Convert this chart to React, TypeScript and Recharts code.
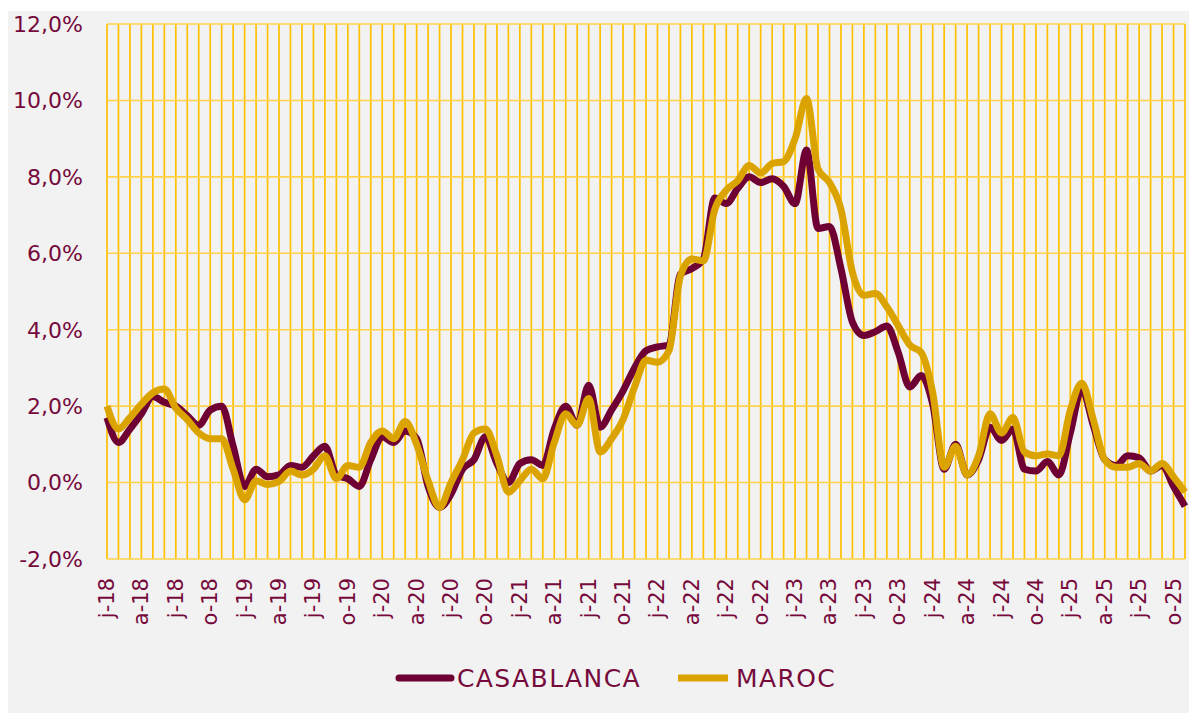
import { LineChart, Line, XAxis, YAxis, CartesianGrid } from "recharts";

const monthInitials = ["j", "f", "m", "a", "m", "j", "j", "a", "s", "o", "n", "d"];
const years = ["18", "19", "20", "21", "22", "23", "24", "25"];

// Jan 2018 -> Nov 2025, monthly, %
const casablanca = [
  1.7, 1.05, 1.4, 1.8, 2.25, 2.1, 2.0, 1.75, 1.5, 1.9, 2.0, 0.95,
  -0.1, 0.35, 0.15, 0.2, 0.45, 0.4, 0.7, 0.95, 0.2, 0.1, -0.1, 0.6,
  1.2, 1.05, 1.35, 1.15, -0.1, -0.65, -0.3, 0.35, 0.6, 1.2, 0.5, 0.0,
  0.5, 0.6, 0.45, 1.4, 2.0, 1.5, 2.55, 1.45, 1.9, 2.4, 3.0, 3.45,
  3.55, 3.6, 5.45, 5.6, 5.85, 7.45, 7.3, 7.7, 8.0, 7.85, 7.95, 7.75,
  7.3, 8.7, 6.65, 6.7, 5.6, 4.2, 3.85, 3.95, 4.1, 3.4, 2.5, 2.8,
  2.05, 0.35, 1.0, 0.2, 0.6, 1.45, 1.1, 1.4, 0.35, 0.3, 0.55, 0.2,
  1.3, 2.45, 1.5, 0.6, 0.45, 0.7, 0.65, 0.3, 0.45, -0.1, -0.62,
];

const maroc = [
  2.0, 1.4, 1.7, 2.05, 2.35, 2.45, 1.95, 1.65, 1.3, 1.15, 1.15, 0.35,
  -0.45, 0.05, -0.05, 0.03, 0.3, 0.2, 0.35, 0.7, 0.1, 0.45, 0.4, 1.05,
  1.35, 1.15, 1.6, 1.0, 0.05, -0.65, 0.0, 0.6, 1.3, 1.4, 0.7, -0.25,
  0.05, 0.35, 0.1, 1.05, 1.8, 1.5, 2.2, 0.8, 1.15, 1.65, 2.5, 3.2,
  3.15, 3.45, 5.4, 5.85, 5.8, 7.15, 7.65, 7.9, 8.3, 8.1, 8.35, 8.4,
  9.0, 10.05, 8.2, 7.85, 7.15, 5.5, 4.9, 4.95, 4.6, 4.1, 3.6, 3.4,
  2.35, 0.4, 0.95, 0.2, 0.7, 1.8, 1.3, 1.7, 0.8, 0.7, 0.75, 0.7,
  1.9, 2.6, 1.65, 0.6, 0.4, 0.4, 0.5, 0.3, 0.5, 0.15, -0.25,
];

const yTicks = [-2, 0, 2, 4, 6, 8, 10, 12];

const labels = years
  .flatMap((y) => monthInitials.map((m) => `${m}-${y}`))
  .slice(0, casablanca.length);

const data = labels.map((label, i) => ({
  key: i,
  label,
  casablanca: casablanca[i],
  maroc: maroc[i],
}));

const TEXT = "#760a3c";
const MAROON = "#6e0034";
const GOLD = "#dba300";
const GRID = "#ffc000";
const GRID_H = "#ffd24a";
const FONT = "'DejaVu Sans', sans-serif";

const MonthTick = (props: any) => {
  const { x, y, payload } = props;
  if (payload.index % 3 !== 0) return <g />;
  const ty = y + 17;
  return (
    <text
      x={x}
      y={ty}
      transform={`rotate(-90 ${x} ${ty})`}
      textAnchor="end"
      dominantBaseline="central"
      fill={TEXT}
      fontSize={21}
      fontFamily={FONT}
    >
      {labels[payload.index]}
    </text>
  );
};

const fmtPct = (v: number) => `${v.toFixed(1).replace(".", ",")}%`;

export default function App() {
  return (
    <div
      style={{
        position: "relative",
        width: 1187,
        height: 702,
        marginTop: 3,
        background: "#f2f2f2",
        fontFamily: FONT,
      }}
    >
      <LineChart
        width={1187}
        height={640}
        data={data}
        margin={{ top: 13, right: 10, bottom: 0, left: 0 }}
      >
        {/* monthly vertical lines, then lighter horizontal ones on top */}
        <CartesianGrid stroke={GRID} strokeWidth={1.7} horizontal={false} />
        <CartesianGrid stroke={GRID_H} strokeWidth={1.6} vertical={false} />
        <XAxis
          dataKey="key"
          type="category"
          interval={0}
          tick={<MonthTick />}
          tickLine={false}
          axisLine={false}
          tickSize={0}
          height={92}
          padding={{ left: 0, right: 0 }}
        />
        <YAxis
          domain={[-2, 12]}
          ticks={yTicks}
          tickFormatter={fmtPct}
          width={99}
          tickLine={false}
          axisLine={false}
          tickSize={0}
          tickMargin={24}
          tick={{ fill: TEXT, fontSize: 22, fontFamily: FONT }}
        />
        <Line
          type="monotone"
          dataKey="casablanca"
          name="CASABLANCA"
          stroke={MAROON}
          strokeWidth={7}
          dot={false}
          isAnimationActive={false}
        />
        <Line
          type="monotone"
          dataKey="maroc"
          name="MAROC"
          stroke={GOLD}
          strokeWidth={7}
          dot={false}
          isAnimationActive={false}
        />
      </LineChart>

      {/* legend */}
      <div
        style={{
          position: "absolute",
          left: 387,
          top: 653,
          height: 28,
          display: "flex",
          alignItems: "center",
          color: TEXT,
          fontSize: 25,
          letterSpacing: 1.4,
        }}
      >
        <svg width={60} height={10} style={{ marginRight: 2 }}>
          <line x1={4} y1={5} x2={56} y2={5} stroke={MAROON} strokeWidth={7} strokeLinecap="round" />
        </svg>
        <span>CASABLANCA</span>
        <svg width={50} height={10} style={{ marginLeft: 37, marginRight: 8 }}>
          <line x1={0} y1={5} x2={50} y2={5} stroke={GOLD} strokeWidth={7} />
        </svg>
        <span>MAROC</span>
      </div>
    </div>
  );
}
